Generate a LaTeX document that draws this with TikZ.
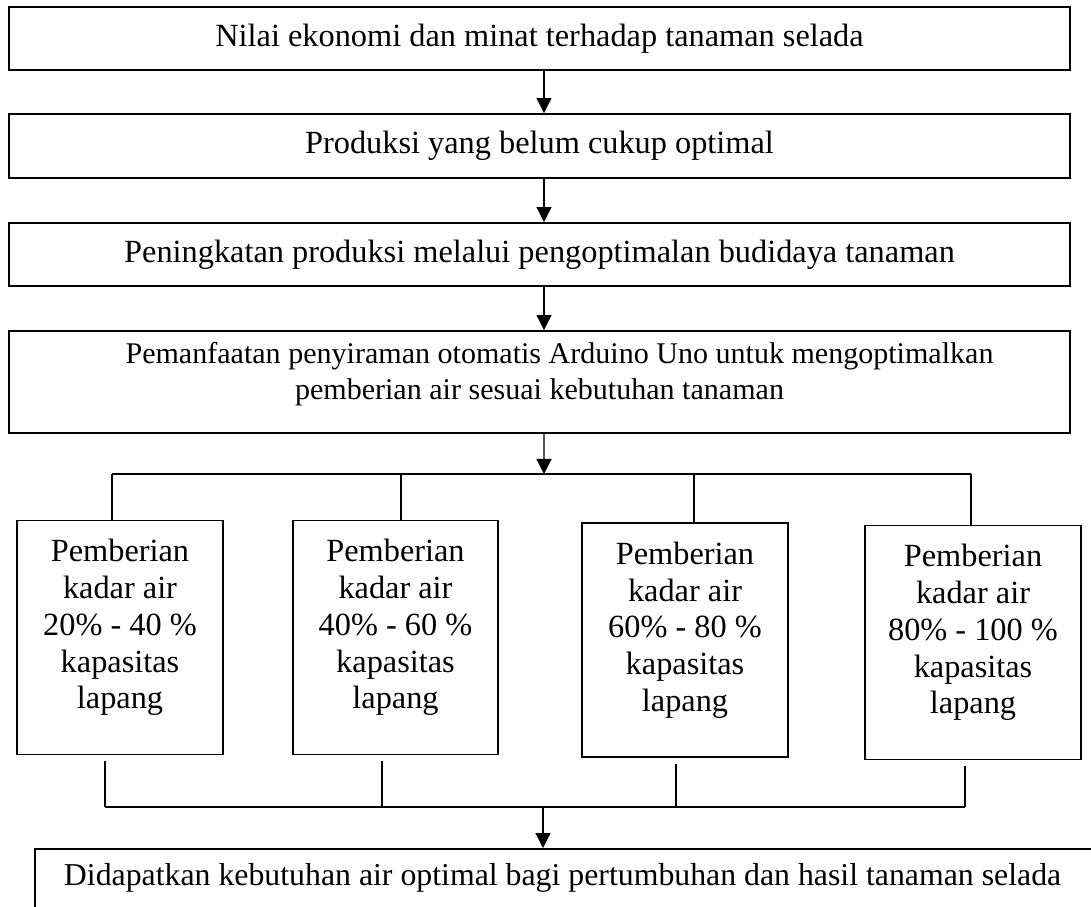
\documentclass[tikz,border=0pt]{standalone}
\usepackage{fontspec}
\setmainfont{Liberation Serif}
\usepackage{tikz}
\usetikzlibrary{arrows.meta, positioning, calc}
\newcommand{\kadartext}[2]{\parbox[c][4.68cm][t]{#1cm}{\centering\vspace*{0.38cm}Pemberian\\ kadar air\\ #2\\ kapasitas\\ lapang}}

\begin{document}
\begin{tikzpicture}[
    font=\fontsize{18.4}{20.9}\selectfont,
    box/.style={draw, line width=1.1pt, minimum width=21.22cm, align=center},
    kadar/.style={draw, line width=1.1pt, inner sep=0pt},
    link/.style={line width=0.7pt},
    arr/.style={link, -{Triangle[length=0.3cm, width=0.3cm]}}
  ]
    \clip (0,0) rectangle (21.82,-18.14);
    \node[box, minimum height=1.26cm] (nilai) at (10.79,-0.77) {Nilai ekonomi dan minat terhadap tanaman selada};
    \node[box, minimum height=1.28cm] (produksi) at (10.79,-2.92) {Produksi yang belum cukup optimal};
    \node[box, minimum height=1.26cm] (tingkat) at (10.79,-5.09) {Peningkatan produksi melalui pengoptimalan budidaya tanaman};
    \node[box, inner sep=0pt, font=\fontsize{17.1}{20.9}\selectfont] (arduino) at (10.79,-7.64)
      {\parbox[c][2.04cm][t]{21.22cm}{\centering\vspace*{0.22cm}%
      \hspace*{0.8cm}Pemanfaatan penyiraman otomatis Arduino Uno untuk mengoptimalkan\\ pemberian air sesuai kebutuhan tanaman}};
    \node[draw, line width=1.1pt, anchor=north west, inner xsep=0.58cm, inner ysep=0.28cm,
          text width=21.5cm, align=flush left, text height=0.45cm, text depth=1cm,
          font=\fontsize{18.1}{20.9}\selectfont] (hasil) at (0.68,-16.96)
          {Didapatkan kebutuhan air optimal bagi pertumbuhan dan hasil tanaman selada};

    \coordinate (split) at (10.88,-9.48);
    \coordinate (join) at (10.86,-16.14);
    \draw[arr] ([xshift=0.09cm]nilai.south) -- ([xshift=0.09cm]produksi.north);
    \draw[arr] ([xshift=0.09cm]produksi.south) -- ([xshift=0.09cm]tingkat.north);
    \draw[arr] ([xshift=0.09cm]tingkat.south) -- ([xshift=0.09cm]arduino.north);
    \draw[arr] ([xshift=0.09cm]arduino.south) -- (split);
    \draw[arr] (join) -- (join |- hasil.north);

    \foreach \x/\y/\w/\t/\b/\r [count=\i] in {2.40/-12.75/4.12/-0.16/-0.30/20\% - 40 \%,
        7.91/-12.75/4.10/0.11/-0.27/40\% - 60 \%, 13.70/-12.80/4.12/0.18/-0.18/60\% - 80 \%,
        19.46/-12.85/4.32/-0.04/-0.16/80\% - 100 \%} {
      \node[kadar] (k\i) at (\x,\y) {\kadartext{\w}{\r}};
      \draw[link] ([xshift=\t cm]k\i.north) -- ([xshift=\t cm]k\i.north |- split);
      \draw[link] ([xshift=\b cm, yshift=-0.12cm]k\i.south) -- ([xshift=\b cm]k\i.south |- join);
    }
    \draw[link] ([xshift=-0.16cm]k1.north |- split) -- ([xshift=-0.04cm]k4.north |- split);
    \draw[link] ([xshift=-0.30cm]k1.south |- join) -- ([xshift=-0.16cm]k4.south |- join);
\end{tikzpicture}
\end{document}
